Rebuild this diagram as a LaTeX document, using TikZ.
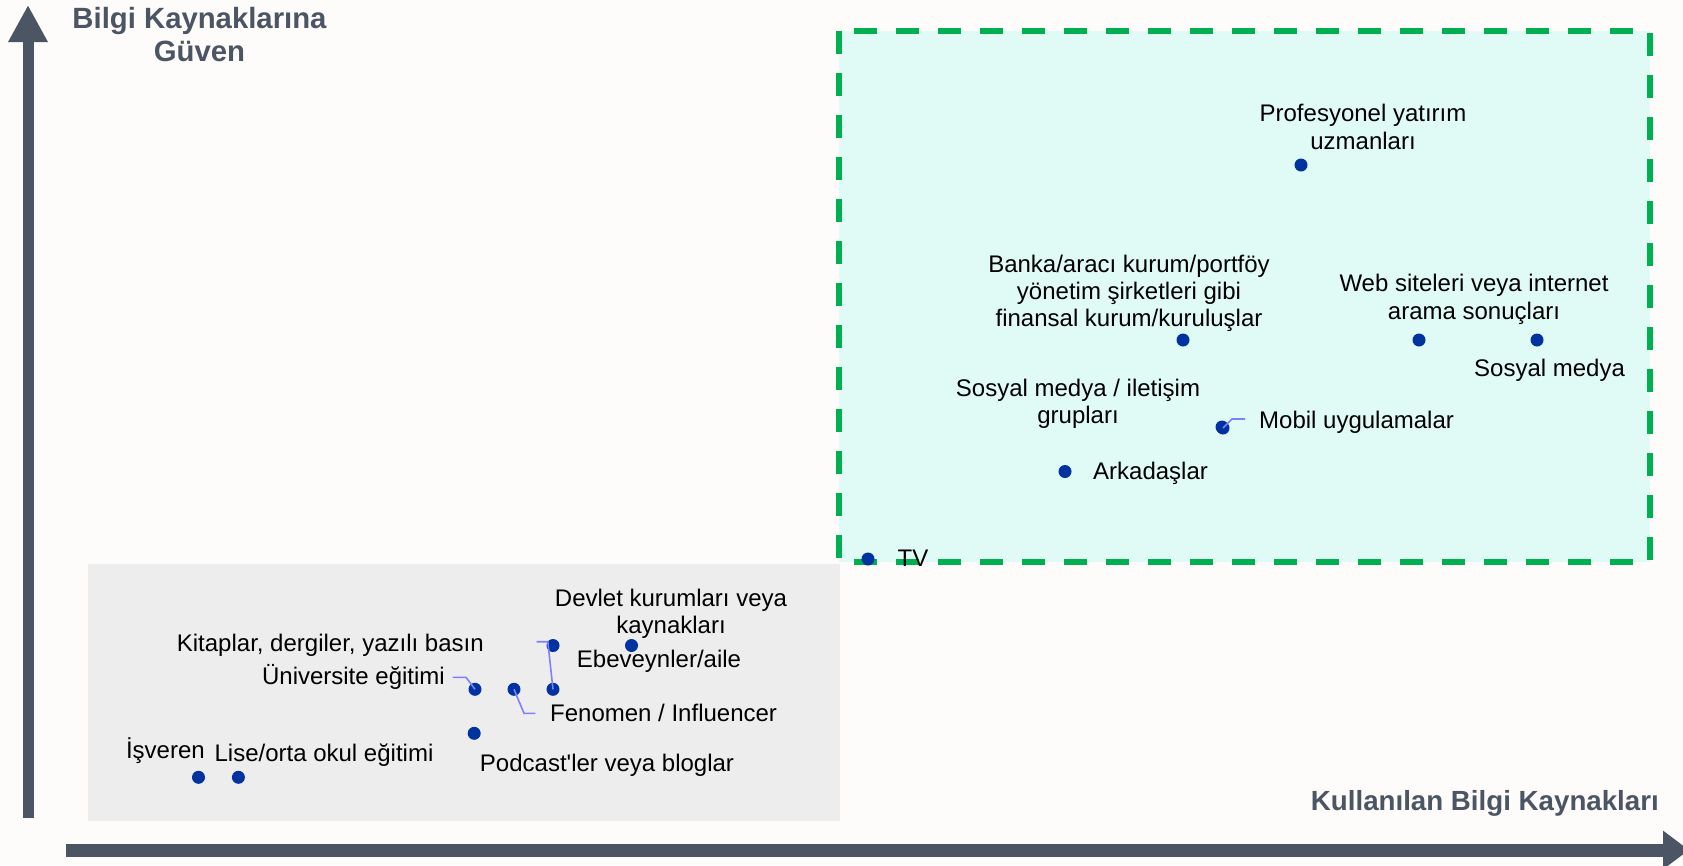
\documentclass[tikz,border=0pt]{standalone}
\usepackage{fontspec}
\setmainfont{Liberation Sans}[Ligatures=TeXOff]
\usepackage{xcolor}
\usetikzlibrary{arrows.meta, positioning}

\definecolor{bgwhite}{HTML}{FDFCFB}
\definecolor{axisgray}{HTML}{4B5563}
\definecolor{boxgrey}{HTML}{EDEDED}
\definecolor{trustcyan}{HTML}{E0FBF5}
\definecolor{trustgreen}{HTML}{00B050}
\definecolor{dotblue}{HTML}{0033A0}
\definecolor{leaderblue}{HTML}{8080FF}

\begin{document}
\begin{tikzpicture}[x=1pt, y=-1pt,
    srcdot/.style={circle, fill=dotblue, inner sep=0pt, minimum size=13pt},
    lbl/.style={inner sep=0pt, font=\fontsize{24}{27.3}\selectfont, align=center},
    axislbl/.style={inner sep=0pt, text=axisgray, font=\fontsize{27.7}{33}\selectfont\bfseries, align=center},
    leader/.style={draw=leaderblue, line width=1.6pt},
    axisline/.style={draw=axisgray, fill=axisgray}]
\fill[bgwhite] (0,0) rectangle (1683,865);
\useasboundingbox (0,0) rectangle (1683,865);

% regions
\fill[boxgrey] (88,564) rectangle (840,821);
\draw[fill=trustcyan, draw=trustgreen, line width=5.3pt, dash pattern=on 23pt off 19pt] (839,31) rectangle (1650,562);

% axes
\coordinate (y0) at (28,818);
\coordinate (y1) at (28,5);
\coordinate (x0) at (66,850);
\coordinate (x1) at (1689,850);
\draw[axisline, line width=11pt, -{Triangle[length=37pt, width=37pt]}] (y0) -- (y1);
\draw[axisline, line width=13pt, -{Triangle[length=26pt, width=37pt]}] (x0) -- (x1);
\node[axislbl, font=\fontsize{29.3}{33}\selectfont\bfseries] (ylabel) at (199.5,34.5) {Bilgi Kaynaklarına\\Güven};
\node[axislbl, anchor=base east] (xlabel) at (1659,810) {Kullanılan Bilgi Kaynakları};

% upper right sources
\node[srcdot] (prof) at (1301,165) {};
\node[srcdot] (banka) at (1183,340) {};
\node[srcdot] (web) at (1419,340) {};
\node[srcdot] (sosyal) at (1537,340) {};
\node[srcdot] (iletisim) at (1222,427) {};
\node[srcdot] (mobil) at (1223,428) {};
\node[srcdot] (arkadas) at (1065,471.5) {};
\node[srcdot] (tv) at (868,559) {};

\node[lbl] (profL) at (1363,126.8) {Profesyonel yatırım\\uzmanları};
\node[lbl] (bankaL) at (1129,293.4) {Banka/aracı kurum/portföy\\yönetim şirketleri gibi\\finansal kurum/kuruluşlar};
\node[lbl] (webL) at (1474,299.3) {Web siteleri veya internet\\arama sonuçları};
\node[lbl, anchor=base] (sosyalL) at (1549.5,376.7) {Sosyal medya};
\node[lbl] (iletisimL) at (1078,403.5) {Sosyal medya / iletişim\\grupları};
\node[lbl, anchor=base west] (mobilL) at (1259,428.3) {Mobil uygulamalar};
\node[lbl, anchor=base west] (arkadasL) at (1093,479) {Arkadaşlar};
\node[lbl, anchor=base west] (tvL) at (897.5,566.5) {TV};

% lower left sources
\node[srcdot] (devlet) at (631.5,645.5) {};
\node[srcdot] (ebeveyn) at (553,645.5) {};
\node[srcdot] (kitap) at (553,689.3) {};
\node[srcdot] (fenomen) at (514,689.3) {};
\node[srcdot] (univ) at (475,689.3) {};
\node[srcdot] (podcast) at (474.2,733.3) {};
\node[srcdot] (isveren) at (198.5,777.3) {};
\node[srcdot] (lise) at (238.4,777.3) {};

\node[lbl] (devletL) at (671,613.5) {Devlet kurumları veya\\kaynakları};
\node[lbl, anchor=base] (ebeveynL) at (659,667.3) {Ebeveynler/aile};
\node[lbl, anchor=base] (kitapL) at (330.3,651) {Kitaplar, dergiler, yazılı basın};
\node[lbl, anchor=base east] (univL) at (445,684.3) {Üniversite eğitimi};
\node[lbl, anchor=base west] (fenomenL) at (550,721.7) {Fenomen / Influencer};
\node[lbl, anchor=base] (podcastL) at (607,771.7) {Podcast'ler veya bloglar};
\node[lbl, anchor=base] (isverenL) at (165.4,758.3) {İşveren};
\node[lbl, anchor=base] (liseL) at (324,761.7) {Lise/orta okul eğitimi};

% leader lines
\coordinate (mobilE) at (1245,419);
\coordinate (univE) at (452.7,677.3);
\coordinate (fenomenE) at (535.3,713.3);
\coordinate (kitapE) at (536.6,641.7);
\draw[leader] (mobil.center) -- (1232,419) -- (mobilE);
\draw[leader] (univ.center) -- (466,677.3) -- (univE);
\draw[leader] (fenomen.center) -- (524,713.3) -- (fenomenE);
\draw[leader] (kitap.center) -- (547.8,641.7) -- (kitapE);
\end{tikzpicture}
\end{document}
